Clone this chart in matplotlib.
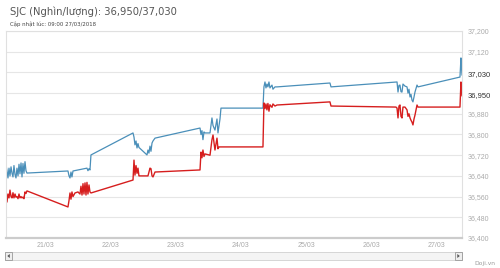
import numpy as np
import matplotlib
matplotlib.use("Agg")
import matplotlib.pyplot as plt
from matplotlib.patches import Rectangle, Polygon

# time in days of March (fractional), price in thousand VND / luong
sell_t = [20.403, 20.418, 20.433, 20.449, 20.464, 20.480, 20.495, 20.510, 20.525, 20.541,
          20.556, 20.571, 20.587, 20.602, 20.617, 20.633, 20.648, 20.663, 20.678, 20.694,
          20.709, 20.724, 21.352, 21.368, 21.383, 21.398, 21.413, 21.429, 21.643, 21.658,
          21.674, 21.689, 21.704, 22.348, 22.363, 22.378, 22.394, 22.409, 22.424, 22.439,
          22.562, 22.577, 22.592, 22.608, 22.623, 22.639, 22.654, 22.685, 23.374, 23.389,
          23.404, 23.419, 23.435, 23.450, 23.527, 23.557, 23.573, 23.603, 23.634, 23.649,
          23.680, 23.695, 24.338, 24.353, 24.369, 24.384, 24.399, 24.414, 24.430, 24.445,
          24.476, 24.491, 24.522, 24.553, 25.364, 25.380, 26.391, 26.406, 26.421, 26.436,
          26.452, 26.467, 26.482, 26.513, 26.544, 26.559, 26.574, 26.590, 26.605, 26.620,
          26.635, 26.651, 26.666, 26.697, 26.712, 27.355, 27.370, 27.378, 27.386]
sell_v = [36682, 36660, 36632, 36670, 36640, 36675, 36650, 36636, 36680, 36645,
          36632, 36670, 36640, 36685, 36648, 36690, 36636, 36688, 36650, 36695,
          36660, 36651, 36659, 36640, 36632, 36655, 36636, 36659, 36670, 36660,
          36668, 36663, 36721, 36806, 36790, 36760, 36775, 36748, 36765, 36750,
          36721, 36740, 36728, 36755, 36735, 36767, 36775, 36786, 36825, 36800,
          36815, 36780, 36810, 36806, 36806, 36864, 36835, 36817, 36860, 36806,
          36860, 36902, 36902, 36984, 37003, 36980, 36995, 36984, 37003, 36980,
          36991, 36975, 36984, 36984, 36999, 36984, 37003, 36964, 36990, 36991,
          36965, 36964, 36995, 36987, 36984, 36960, 36975, 36945, 36955, 36933,
          36926, 36945, 36964, 36991, 36984, 37022, 37096, 37060, 37030]

buy_t = [20.403, 20.418, 20.433, 20.449, 20.464, 20.480, 20.495, 20.510, 20.525, 20.541,
         20.556, 20.571, 20.587, 20.602, 20.617, 20.633, 20.648, 20.663, 20.678, 20.694,
         20.709, 20.724, 21.352, 21.368, 21.383, 21.398, 21.413, 21.429, 21.459, 21.505,
         21.536, 21.551, 21.567, 21.582, 21.597, 21.613, 21.628, 21.643, 21.658, 21.674,
         21.689, 21.704, 22.348, 22.363, 22.378, 22.394, 22.409, 22.424, 22.439, 22.455,
         22.577, 22.608, 22.623, 22.639, 22.654, 22.685, 23.374, 23.389, 23.404, 23.419,
         23.435, 23.450, 23.527, 23.557, 23.573, 23.603, 23.634, 23.649, 23.665, 24.338,
         24.353, 24.369, 24.384, 24.399, 24.414, 24.430, 24.445, 24.476, 24.491, 24.522,
         24.553, 25.364, 25.380, 26.375, 26.391, 26.406, 26.421, 26.436, 26.452, 26.467,
         26.482, 26.513, 26.544, 26.559, 26.574, 26.590, 26.605, 26.620, 26.635, 26.651,
         26.666, 26.697, 26.712, 27.355, 27.370, 27.378, 27.386]
buy_v = [36585, 36539, 36570, 36555, 36585, 36560, 36555, 36575, 36555, 36570,
         36558, 36560, 36552, 36570, 36555, 36560, 36555, 36558, 36552, 36578,
         36572, 36582, 36520, 36545, 36574, 36550, 36578, 36560, 36574, 36578,
         36570, 36600, 36566, 36610, 36570, 36613, 36566, 36615, 36570, 36605,
         36578, 36574, 36624, 36701, 36643, 36680, 36650, 36670, 36640, 36640,
         36640, 36670, 36668, 36640, 36636, 36655, 36663, 36732, 36710, 36740,
         36715, 36725, 36720, 36780, 36798, 36740, 36786, 36745, 36752, 36752,
         36922, 36900, 36918, 36895, 36920, 36890, 36915, 36905, 36918, 36910,
         36914, 36926, 36910, 36906, 36902, 36864, 36910, 36914, 36870, 36864,
         36906, 36906, 36895, 36870, 36880, 36864, 36855, 36848, 36837, 36860,
         36875, 36914, 36906, 36906, 37003, 36975, 36950]

day_ticks = [21, 22, 23, 24, 25, 26, 27]
day_labels = ["21/03", "22/03", "23/03", "24/03", "25/03", "26/03", "27/03"]
price_ticks = np.arange(36400, 37201, 80)
last_buy = 36950
last_sell = 37030

W, H = 500, 268
fig = plt.figure(figsize=(W / 100, H / 100), dpi=100)
fig.patch.set_facecolor("white")

ax = fig.add_axes([6 / W, 1 - 238 / H, 456 / W, 207 / H])
ax.plot(sell_t, sell_v, color="#4a8fb9", lw=0.9)
ax.plot(buy_t, buy_v, color="#d61e1e", lw=1.0)

ax.set_xlim(20.403, 27.386)
ax.set_ylim(36400, 37200)
ax.set_yticks(price_ticks)
# tick labels hidden behind the last-value labels
hidden = [v for v in price_ticks if abs(v - last_sell) < 40 or abs(v - last_buy) < 40]
ax.set_yticklabels(["" if v in hidden else "{:,.0f}".format(v) for v in price_ticks])
ax.set_xticks(day_ticks)
ax.set_xticklabels(day_labels)
ax.yaxis.tick_right()
ax.tick_params(axis="both", length=0, labelsize=5, labelcolor="#aaaaaa")
ax.tick_params(axis="y", pad=4)
ax.tick_params(axis="x", pad=3)
for lab in ax.get_xticklabels() + ax.get_yticklabels():
    lab.set_family("Liberation Sans")
ax.grid(axis="y", color="#e6e6e6", lw=0.8)
ax.set_axisbelow(True)
for s in ["top", "right", "left"]:
    ax.spines[s].set_color("#e0e0e0")
    ax.spines[s].set_linewidth(0.8)
ax.spines["bottom"].set_color("#cccccc")
ax.spines["bottom"].set_linewidth(1.6)

# last value labels on the right axis
for v in [last_sell, last_buy]:
    ax.annotate("{:,.0f}".format(v), xy=(1, v), xycoords=("axes fraction", "data"),
                xytext=(4, 0), textcoords="offset points", ha="left", va="center",
                fontsize=5.5, color="#333333", family="Liberation Sans")

# title block
fig.text(10 / W, 1 - 12 / H, "SJC (Nghìn/lượng): 36,950/37,030", fontsize=7.2,
         color="#555555", va="center", ha="left")
fig.text(10 / W, 1 - 24 / H, "Cập nhật lúc: 09:00 27/03/2018", fontsize=3.9,
         color="#444444", va="center", ha="left")

# scrollbar under the chart
fig.patches.append(Rectangle((5 / W, 1 - 260 / H), 457 / W, 8 / H, transform=fig.transFigure,
                             fc="#f4f4f4", ec="#d0d0d0", lw=0.6))
for bx in [5, 455]:
    fig.patches.append(Rectangle((bx / W, 1 - 260 / H), 7 / W, 8 / H, transform=fig.transFigure,
                                 fc="#eeeeee", ec="#999999", lw=0.6))
fig.patches.append(Polygon([[9.8 / W, 1 - 254 / H], [9.8 / W, 1 - 258 / H], [7.3 / W, 1 - 256 / H]],
                           closed=True, transform=fig.transFigure, fc="#555555", ec="none"))
fig.patches.append(Polygon([[457.3 / W, 1 - 254 / H], [457.3 / W, 1 - 258 / H], [459.8 / W, 1 - 256 / H]],
                           closed=True, transform=fig.transFigure, fc="#555555", ec="none"))
fig.text(495 / W, 1 - 263 / H, "Doji.vn", fontsize=4.3, color="#999999", ha="right", va="center")

fig.savefig("out.png", dpi=100)
